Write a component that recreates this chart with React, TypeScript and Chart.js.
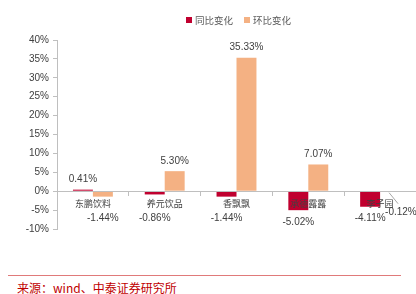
import React, { useEffect, useRef } from 'react';
import { Chart, registerables } from 'chart.js';

Chart.register(...registerables);

const categories = ['东鹏饮料', '养元饮品', '香飘飘', '承德露露', '李子园'];
const seriesNames = ['同比变化', '环比变化'];
const yoyValues = [0.41, -0.86, -1.44, -5.02, -4.11];
const qoqValues = [-1.44, 5.30, 35.33, 7.07, -0.12];
const yMin = -10;
const yMax = 40;
const yStep = 5;
const sourceText = '来源：wind、中泰证券研究所';

const RED = '#C0002F';
const ORANGE = '#F4B183';
const NUM_FONT = '"Liberation Sans", Arial, sans-serif';
const CJK_FONT = '"Noto Sans CJK SC", sans-serif';

const fmt = (v: number) => v.toFixed(2) + '%';

const legendPlugin = {
  id: 'topLegend',
  afterDraw(chart: any) {
    const ctx = chart.ctx;
    const ds = chart.data.datasets;
    ctx.save();
    ctx.font = `9.5px ${CJK_FONT}`;
    const box = 6, gapBox = 3, gapItem = 11;
    const widths = ds.map((d: any) => box + gapBox + ctx.measureText(d.label).width);
    const total = widths.reduce((a: number, b: number) => a + b, 0) + gapItem * (ds.length - 1);
    const cx = (chart.chartArea.left + chart.chartArea.right) / 2 + 2;
    let x = cx - total / 2;
    const y = 20;
    ds.forEach((d: any, i: number) => {
      ctx.fillStyle = d.backgroundColor;
      ctx.fillRect(x, y - box / 2, box, box);
      ctx.fillStyle = '#595959';
      ctx.textAlign = 'left';
      ctx.textBaseline = 'middle';
      ctx.fillText(d.label, x + box + gapBox, y + 0.5);
      x += widths[i] + gapItem;
    });
    ctx.restore();
  },
};

const labelPlugin = {
  id: 'valueLabels',
  afterDatasetsDraw(chart: any) {
    const ctx = chart.ctx;
    ctx.save();
    ctx.font = `10px ${NUM_FONT}`;
    ctx.fillStyle = '#404040';
    ctx.textBaseline = 'middle';
    chart.data.datasets.forEach((d: any, i: number) => {
      const meta = chart.getDatasetMeta(i);
      meta.data.forEach((bar: any, j: number) => {
        const v = d.data[j];
        const { x, y, base } = bar.getProps(['x', 'y', 'base'], true);
        if (v >= 0) {
          ctx.textAlign = 'center';
          ctx.fillText(fmt(v), x, y - 10);
        } else if (v > -0.5) {
          ctx.strokeStyle = '#A6A6A6';
          ctx.lineWidth = 1;
          ctx.beginPath();
          ctx.moveTo(x - 1, base + 1);
          ctx.lineTo(x + 8, base + 12);
          ctx.stroke();
          ctx.textAlign = 'left';
          ctx.fillText(fmt(v), x - 5, base + 21);
        } else {
          ctx.textAlign = 'center';
          const ty = Math.max(y + 12, base + 27);
          ctx.fillText(fmt(v), x, ty);
        }
      });
    });
    ctx.restore();
  },
};

export default function App() {
  const canvasRef = useRef<HTMLCanvasElement | null>(null);

  useEffect(() => {
    const canvas = canvasRef.current;
    if (!canvas) return;
    const chart = new Chart(canvas, {
      type: 'bar',
      data: {
        labels: categories,
        datasets: [
          {
            label: seriesNames[0],
            data: yoyValues,
            backgroundColor: RED,
            barPercentage: 1,
            categoryPercentage: 0.556,
          },
          {
            label: seriesNames[1],
            data: qoqValues,
            backgroundColor: ORANGE,
            barPercentage: 1,
            categoryPercentage: 0.556,
          },
        ],
      },
      options: {
        responsive: false,
        animation: false,
        devicePixelRatio: 1,
        layout: { padding: { top: 40, left: 0, right: 0, bottom: 33 } },
        plugins: {
          legend: { display: false },
          tooltip: { enabled: false },
        },
        scales: {
          x: {
            position: { y: 0 } as any,
            grid: {
              drawOnChartArea: false,
              drawTicks: true,
              tickLength: 4,
              offset: true,
              color: '#BFBFBF',
              z: 1,
            },
            border: { display: true, color: '#BFBFBF', z: 1 },
            ticks: {
              z: 1,
              padding: 3,
              autoSkip: false,
              maxRotation: 0,
              color: '#404040',
              font: { family: CJK_FONT, size: 9 },
            },
          },
          y: {
            min: yMin,
            max: yMax,
            afterFit: (scale: any) => {
              scale.width = 57;
            },
            grid: {
              drawOnChartArea: false,
              drawTicks: true,
              tickLength: 4,
              color: '#BFBFBF',
            },
            border: { display: true, color: '#BFBFBF' },
            ticks: {
              stepSize: yStep,
              padding: 4,
              color: '#404040',
              font: { family: NUM_FONT, size: 10 },
              callback: (v: any) => `${v}%`,
            },
          },
        },
      },
      plugins: [legendPlugin, labelPlugin],
    });
    return () => chart.destroy();
  }, []);

  return (
    <div style={{ position: 'fixed', left: 0, top: 0, width: 416, height: 294, background: '#fff', overflow: 'hidden' }}>
      <canvas ref={canvasRef} width={416} height={262} style={{ display: 'block' }} />
      <div style={{ position: 'absolute', left: 8, top: 275, width: 393, height: 0, borderTop: '1px solid #E07A7A' }} />
      <div
        style={{
          position: 'absolute',
          left: 17,
          top: 280,
          fontFamily: CJK_FONT,
          fontSize: 12,
          lineHeight: '16px',
          color: '#C00000',
          whiteSpace: 'nowrap',
        }}
      >
        {sourceText}
      </div>
    </div>
  );
}
